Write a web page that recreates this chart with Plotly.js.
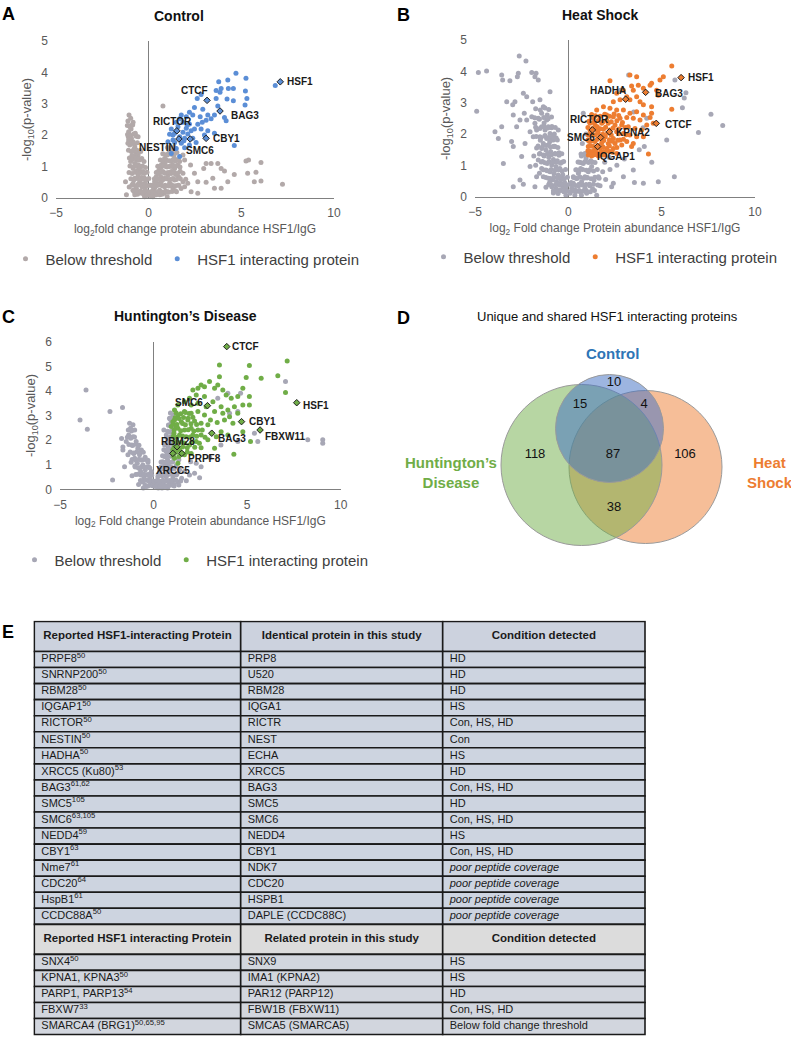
<!DOCTYPE html>
<html><head><meta charset="utf-8">
<script src="https://cdn.plot.ly/plotly-3.0.1.min.js"></script>
<style>html,body{margin:0;padding:0;background:#fff}#chart{width:791px;height:1043px}</style>
</head><body><div id="chart"></div>
<script>
// ---------------- DATA ----------------
// Panel A: Control  ([log2 FC, -log10 p])
const controlBelow = [
[0.77,2.93],[5.25,1.18],[5.39,1.21],[6.06,1.13],[5.79,0.82],[5.34,0.79],[7.22,0.44],[6.06,0.54],[5.70,0.52],[4.62,0.75],[4.09,0.86],[3.73,1.10],[3.91,0.94],[3.37,1.10],[3.10,1.10],[2.97,0.94],[2.65,0.52],[3.10,0.50],[3.55,0.31],[3.91,0.31],[2.47,0.79],[2.26,1.05],[1.94,1.21],[3.46,0.63],[4.27,0.52],[2.11,0.47],[2.29,0.20],[2.65,0.15],[1.94,0.36],[1.52,1.45],[1.85,1.37],
[-1.06,2.64],[-0.97,2.54],[-0.84,2.41],[-0.90,2.32],[-1.08,2.11],[-1.02,2.01],[-0.93,1.90],[-0.84,1.79],[-0.75,1.63],[-0.66,1.53],[-0.57,1.37],[-0.48,1.21],[-0.39,1.00],[-0.30,0.84],[-0.22,0.63],[-0.13,0.41],[-0.04,0.20],[-0.93,1.48],[-1.02,1.69],[-1.08,1.85],[-0.81,1.26],[-0.66,1.05],[-0.97,1.16],[-0.84,0.94],[-0.57,0.73],[-0.75,0.63],[-0.48,0.52],[-0.36,0.36],[-0.66,0.31],[-0.84,0.47],[-0.54,0.94],[-0.43,1.48],[-1.25,0.52],[-1.20,0.10],[-0.25,1.16],[-0.57,1.95],[-0.72,2.06],
[-1.12,2.45],[-1.05,2.30],[-0.95,2.20],[-1.10,1.95],[-0.98,1.80],[-0.80,1.55],[-0.90,1.35],[-0.70,1.40],[-0.62,1.20],[-0.75,1.10],[-0.55,1.05],[-0.45,0.85],[-0.65,0.85],[-0.38,0.65],[-0.30,0.45],[-0.55,0.45],[-0.20,0.30],[-0.45,0.20],[-0.25,0.10],[-0.10,0.08],[-0.60,0.12],[-0.85,0.25],[-1.05,0.35],[-0.15,0.55],
[0.14,0.20],[0.23,0.36],[0.32,0.52],[0.41,0.68],[0.50,0.84],[0.59,0.94],[0.68,1.05],[0.77,1.16],[0.86,1.26],[1.00,1.37],[1.13,1.48],[1.25,1.53],[0.32,0.31],[0.50,0.41],[0.68,0.52],[0.86,0.63],[1.04,0.73],[1.22,0.84],[1.40,0.94],[1.58,1.05],[1.67,1.16],[0.59,0.25],[0.86,0.36],[1.13,0.47],[1.40,0.57],[1.61,0.68],[1.85,0.79],[1.04,0.20],[1.31,0.31],[1.58,0.41],[1.85,0.52],[0.77,0.84],[0.95,1.00],[0.65,0.68],[1.22,1.16],[1.40,1.26],[0.41,0.10],[0.72,0.12],[1.00,0.04],[0.23,0.04],[0.05,0.10],[-0.22,0.04],[-0.39,0.15],[-0.57,0.20],[-0.75,0.10],
[1.10,1.00],[1.30,1.05],[0.95,0.80],[1.20,0.60],[0.45,0.45],[0.60,0.10],[0.85,0.15],[1.50,0.20],[1.75,0.30],[2.00,0.60],[1.70,0.85],[1.45,0.75],[0.90,1.15],[1.35,1.35],[0.15,0.05],[0.30,0.15],[1.20,0.40],
[-1.15,2.31],[-1.01,2.27],[-0.86,2.33],[-1.14,2.02],[-0.99,1.98],[-0.81,2.04],[-0.67,1.97],[-1.12,1.74],[-0.94,1.77],[-0.78,1.72],[-0.61,1.76],[-1.09,1.52],[-0.91,1.49],[-0.76,1.52],[-0.58,1.47],[-0.46,1.51],
[-1.04,1.27],[-0.88,1.23],[-0.71,1.27],[-0.52,1.24],[-0.37,1.26],[-1.01,1.02],[-0.83,0.98],[-0.64,1.03],[-0.47,0.99],[-0.33,1.02],[-0.17,0.97],[-1.06,0.81],[-0.89,0.78],[-0.72,0.82],[-0.56,0.79],[-0.41,0.81],[-0.24,0.78],[-0.09,0.82],
[-0.96,0.61],[-0.79,0.58],[-0.63,0.62],[-0.46,0.59],[-0.29,0.61],[-0.13,0.58],[0.01,0.62],[-0.91,0.41],[-0.71,0.38],[-0.54,0.42],[-0.37,0.39],[-0.21,0.41],[-0.06,0.38],[0.09,0.41],[-0.79,0.21],[-0.63,0.18],[-0.44,0.22],[-0.31,0.19],[-0.11,0.21],[0.04,0.18],
[0.21,0.22],[0.37,0.18],[0.56,0.21],[0.71,0.19],[0.91,0.22],[1.07,0.18],[1.26,0.21],[1.44,0.23],[0.19,0.41],[0.38,0.38],[0.54,0.42],[0.73,0.39],[0.89,0.41],[1.08,0.38],[1.24,0.42],[1.43,0.39],[1.63,0.41],
[0.31,0.61],[0.46,0.58],[0.63,0.62],[0.79,0.59],[0.98,0.61],[1.12,0.58],[1.31,0.62],[1.49,0.59],[1.71,0.61],[0.41,0.81],[0.54,0.78],[0.71,0.82],[0.87,0.79],[1.06,0.81],[1.21,0.78],[1.37,0.82],[1.56,0.79],
[0.49,1.01],[0.66,0.98],[0.83,1.02],[0.99,0.99],[1.16,1.01],[1.33,0.98],[1.47,1.02],[1.69,0.99],[0.63,1.21],[0.79,1.18],[0.94,1.22],[1.11,1.19],[1.29,1.21],[1.44,1.18],[1.61,1.22],[0.76,1.41],[0.91,1.38],[1.07,1.42],[1.21,1.39],[1.39,1.41],[1.01,1.61],[1.19,1.58],[1.37,1.62]
];
const controlHits = [
[4.71,3.97],[5.25,3.81],[4.27,3.76],[3.78,3.70],[6.83,3.58],[3.91,3.49],[4.30,3.49],[4.57,3.49],[3.64,3.42],[3.85,3.37],[5.22,3.41],[2.83,3.30],[3.64,3.17],[2.62,3.17],[4.23,3.15],[4.57,3.10],[5.30,3.17],[5.20,2.96],[3.73,2.93],[2.47,2.88],[2.92,2.83],[2.20,2.73],[1.76,2.64],[2.38,2.64],[2.03,2.59],[2.78,2.59],[3.19,2.64],[3.55,2.64],[3.37,2.52],[4.09,2.56],[4.18,2.46],[3.10,2.48],[1.67,2.52],[1.49,2.41],[1.85,2.41],[2.20,2.36],[2.65,2.35],[2.89,2.41],[2.47,2.20],[2.83,2.20],[3.19,2.14],[2.03,2.22],[1.85,2.09],[2.11,2.04],[2.29,2.14],[1.22,2.20],[1.31,2.01],[1.13,2.03],[1.67,1.95],[1.94,1.90],[2.38,1.90],[2.56,1.77],[1.40,1.77],[1.76,1.74],[1.49,1.58],[1.22,1.42],[1.67,1.32],[1.94,1.60],[4.62,1.67],[3.01,2.01],[3.55,2.06],[1.58,2.27],[2.08,2.32],[1.31,1.85],[1.04,1.79],[1.40,2.06],[1.90,1.82],[2.20,1.69]
];
const controlLabelNames = ['HSF1','CTCF','BAG3','RICTOR','NESTIN','SMC6','CBY1'];
const controlLabelPts = [[7.10,3.70],[3.15,3.11],[3.85,2.77],[1.52,2.14],[1.63,1.88],[2.24,1.88],[3.10,1.90]];

// Panel B: Heat Shock
const heatBelow = [
[-2.63,4.49],[-2.27,4.33],[-4.82,3.96],[-4.38,4.01],[-3.57,3.88],[-3.52,3.72],[-3.13,3.70],[-2.68,3.94],[-2.73,3.83],[-1.96,3.96],[-1.73,3.94],[-1.79,3.83],[-1.61,3.72],[-4.91,2.73],[-3.30,3.03],[-2.98,2.93],[-2.86,3.03],[-2.41,3.30],[-2.23,3.19],[-1.91,3.03],[-1.52,3.09],[-1.34,2.87],[-0.98,3.35],[-2.95,2.61],[-2.59,2.45],[-2.36,2.66],[-2.23,2.45],[-2.77,2.23],[-3.04,1.76],[-3.75,1.86],[-3.93,2.07],[-3.57,2.23],[-3.48,1.06],[-1.96,2.55],[-1.79,2.34],[-1.70,2.13],[-1.88,1.91],[-1.52,1.91],[-1.43,2.23],[-2.05,2.07],[-2.32,1.70],[-2.50,1.28],[-2.05,0.96],[-1.70,0.64],[-1.79,0.32],[-2.41,0.40],[-2.95,0.32],[-2.59,0.53],[-0.54,2.13],[-0.80,1.81],[-2.95,1.60],
[-1.16,2.45],[-1.07,2.23],[-1.25,2.13],[-0.98,2.02],[-1.16,1.86],[-0.89,1.81],[-1.34,1.70],[-1.07,1.65],[-0.80,1.60],[-1.43,1.54],[-1.20,1.49],[-0.95,1.44],[-0.71,1.38],[-1.52,1.38],[-1.30,1.30],[-1.05,1.26],[-0.80,1.19],[-0.59,1.15],[-1.61,1.17],[-1.38,1.12],[-1.13,1.06],[-0.89,1.01],[-0.66,0.96],[-0.45,0.90],[-1.43,0.90],[-1.20,0.85],[-0.98,0.80],[-0.77,0.74],[-0.54,0.69],[-1.34,0.64],[-1.07,0.59],[-0.84,0.53],[-0.63,0.48],[-0.41,0.43],[-0.89,0.32],[-0.66,0.27],[-0.45,0.21],[-0.23,0.16],[-0.13,0.05],[-0.30,0.32],[-0.71,1.60],[-0.59,1.81],[-1.61,2.50],[-1.43,2.66],[-1.13,2.61],
[-1.50,1.80],[-1.70,1.55],[-1.25,1.95],[-0.90,2.20],[-0.75,2.00],[-0.50,1.40],[-0.35,1.10],[-0.30,0.70],[-0.20,0.45],[-1.00,0.45],[-1.20,0.30],[-0.55,0.10],[-0.80,0.12],[-1.55,0.75],[-1.75,1.00],[-1.85,1.30],[-0.40,0.55],[-0.15,0.25],[-1.00,1.75],[-1.30,2.35],
[-1.75,2.81],[-1.50,2.77],[-1.25,2.83],[-1.05,2.78],[-1.80,2.52],[-1.55,2.47],[-1.32,2.53],[-1.08,2.49],[-0.90,2.54],[-1.75,2.22],[-1.52,2.18],[-1.30,2.23],[-1.10,2.19],[-0.88,2.24],[-0.70,2.21],
[-1.72,1.92],[-1.48,1.88],[-1.26,1.93],[-1.05,1.89],[-0.85,1.91],[-0.65,1.87],[-1.62,1.62],[-1.40,1.58],[-1.18,1.63],[-0.96,1.59],[-0.76,1.61],[-0.56,1.57],
[-1.55,1.36],[-1.33,1.33],[-1.12,1.37],[-0.90,1.34],[-0.70,1.36],[-0.50,1.32],[-0.35,1.37],[-1.45,1.11],[-1.25,1.08],[-1.03,1.12],[-0.83,1.09],[-0.62,1.11],[-0.42,1.07],[-0.25,1.12],
[-1.35,0.86],[-1.13,0.83],[-0.92,0.87],[-0.72,0.84],[-0.52,0.86],[-0.33,0.82],[-0.15,0.87],[-1.20,0.61],[-0.98,0.58],[-0.78,0.62],[-0.58,0.59],[-0.40,0.61],[-0.22,0.57],[-0.05,0.62],
[-1.05,0.39],[-0.85,0.36],[-0.65,0.40],[-0.47,0.37],[-0.29,0.39],[-0.12,0.35],[0.05,0.40],[-0.80,0.19],[-0.60,0.16],[-0.42,0.20],[-0.25,0.17],[-0.08,0.19],[0.10,0.16],
[0.22,0.19],[0.40,0.16],[0.58,0.20],[0.78,0.17],[0.97,0.19],[1.18,0.16],[1.40,0.20],[0.20,0.39],[0.38,0.36],[0.57,0.40],[0.75,0.37],[0.95,0.39],[1.15,0.35],[1.35,0.40],[1.58,0.37],
[0.28,0.61],[0.46,0.58],[0.64,0.62],[0.83,0.59],[1.02,0.61],[1.22,0.57],[1.42,0.62],[1.65,0.59],[0.40,0.86],[0.58,0.83],[0.77,0.87],[0.96,0.84],[1.15,0.86],[1.35,0.82],[1.55,0.87],
[0.52,1.11],[0.70,1.08],[0.90,1.12],[1.08,1.09],[1.28,1.11],[0.68,1.36],[0.85,1.33],[1.02,1.37],
[0.09,0.11],[0.18,0.27],[0.27,0.43],[0.41,0.59],[0.54,0.74],[0.66,0.90],[0.80,1.06],[0.95,1.22],[0.36,0.21],[0.54,0.34],[0.71,0.48],[0.89,0.64],[1.07,0.80],[1.25,0.96],[1.43,1.09],[0.63,0.16],[0.89,0.27],[1.13,0.40],[1.38,0.53],[1.61,0.64],[0.98,0.11],[1.84,0.80],[0.27,0.64],[0.45,0.85],[0.89,1.38],[0.80,2.66],[1.52,0.05],[2.23,0.87],[2.41,0.43],[2.95,0.64],[3.48,0.85],[4.02,0.43],[4.82,0.48],[5.68,0.64],[3.54,0.45],[2.32,0.32],[4.47,1.10],[6.97,2.05],[8.27,2.27],[7.64,2.63],[6.11,2.84],[6.21,3.15],[5.71,3.72],[5.27,1.81],[4.07,1.60],[3.23,3.88],[3.50,2.70],[4.00,2.20],[3.80,1.50],[2.80,3.40],[4.20,2.50],[3.00,1.20],[2.60,1.00],[6.30,3.32],
[0.70,1.30],[1.10,1.45],[1.20,1.15],[0.60,1.10],[1.00,0.60],[1.30,0.25],[1.70,0.35],[2.00,0.55],[0.15,0.45],[0.35,0.05],[0.70,0.05],[1.95,1.10],[2.20,1.25],[0.75,1.70],[1.05,1.80],[0.95,2.00]
];
const heatHits = [
[5.54,4.17],[5.09,3.83],[4.91,3.72],[4.46,3.62],[4.38,3.56],[3.30,3.88],[3.66,3.83],[2.23,3.70],[3.39,3.53],[3.75,3.56],[3.48,3.40],[4.02,3.46],[4.82,3.24],[4.73,3.40],[5.54,2.79],[2.59,3.30],[2.95,3.40],[3.13,3.19],[3.30,3.09],[3.66,3.19],[3.84,3.03],[4.02,2.93],[2.77,3.09],[2.41,3.03],[1.88,2.87],[1.52,2.77],[2.23,2.82],[2.59,2.77],[2.95,2.77],[3.30,2.66],[3.66,2.71],[4.02,2.61],[4.38,2.53],[4.55,2.34],[4.20,2.29],[3.84,2.45],[3.48,2.50],[3.13,2.53],[2.77,2.50],[2.41,2.55],[2.05,2.61],[1.70,2.57],[1.34,2.50],[1.16,2.34],[1.43,2.29],[1.79,2.34],[2.14,2.34],[2.50,2.29],[2.86,2.29],[3.21,2.23],[3.57,2.18],[3.93,2.13],[4.02,1.91],[3.66,1.91],[3.30,1.97],[2.95,2.02],[2.59,2.07],[2.23,2.13],[1.88,2.15],[1.52,2.13],[1.16,2.13],[1.07,1.97],[1.34,1.97],[1.70,1.91],[1.98,1.91],[2.41,1.86],[2.77,1.81],[3.13,1.76],[3.48,1.70],[3.39,1.60],[2.86,1.65],[2.50,1.70],[2.14,1.70],[1.79,1.72],[1.43,1.76],[1.13,1.76],[1.07,1.60],[1.34,1.60],[1.70,1.54],[2.05,1.54],[2.41,1.54],[1.16,1.44],[1.52,1.40],[1.88,1.44],[2.23,1.44],[1.25,1.30],[1.61,1.30],[1.96,1.33],[4.29,1.36],[1.07,1.33],[2.59,1.38],[4.46,2.87],[4.46,2.66],
[1.25,2.62],[1.45,2.58],[1.95,2.63],[2.20,2.57],[2.45,2.64],[2.70,2.59],[1.10,2.41],[1.35,2.37],[1.60,2.43],[1.85,2.38],[2.05,2.44],[2.30,2.39],[2.60,2.42],[2.90,2.37],
[1.05,2.21],[1.30,2.18],[1.55,2.23],[1.70,2.17],[2.00,2.22],[2.40,2.19],[2.70,2.16],[3.05,2.21],[1.20,2.02],[1.45,1.98],[1.60,2.04],[1.85,1.99],[2.10,2.03],[2.30,1.97],[2.70,2.01],[3.10,1.98],
[1.05,1.81],[1.25,1.78],[1.55,1.83],[1.90,1.79],[2.20,1.82],[2.35,1.77],[2.65,1.80],[2.95,1.83],[1.20,1.62],[1.45,1.58],[1.60,1.63],[1.85,1.59],[2.20,1.62],[2.60,1.57],[1.05,1.47],[1.30,1.44],[1.45,1.48],[1.75,1.43],[2.10,1.46],[2.35,1.42],[1.15,1.36],[1.40,1.34],[1.70,1.37],[1.85,1.33]
];
const heatLabelNames = ['HSF1','BAG3','HADHA','CTCF','RICTOR','KPNA2','SMC6','IQGAP1'];
const heatLabelPts = [[6.04,3.80],[4.14,3.33],[3.07,3.11],[4.71,2.34],[1.29,2.13],[2.20,2.07],[1.73,1.89],[1.57,1.60]];

// Panel C: Huntington's Disease
const hdBelow = [
[-3.61,4.04],[-3.93,2.82],[-3.54,2.44],[-2.33,3.16],[-1.66,3.33],[-2.19,0.38],[-1.71,2.07],[-1.64,1.72],
[-1.28,2.68],[-1.10,2.62],[-1.23,2.48],[-1.01,2.41],[-1.33,2.21],[-1.10,2.14],[-0.93,1.94],[-1.16,1.80],[-0.84,1.67],[-1.05,1.46],[-0.75,1.40],[-0.66,1.19],[-0.87,1.06],[-0.57,0.99],[-0.44,0.79],[-0.69,0.72],[-0.34,0.58],[-0.52,0.45],[-0.27,0.38],[-0.16,0.18],[-0.39,0.11],[-1.46,1.94],[-1.64,1.60],[-1.37,1.40],[-1.01,1.26],[-1.55,0.92],[-0.75,0.85],[-0.27,0.92],[-0.12,0.72],
[-1.20,1.10],[-0.95,0.60],[-0.60,0.30],[-0.80,0.20],[-1.15,0.55],[-0.45,1.30],[-0.30,1.10],[-0.20,0.50],[-0.08,0.30],[-0.55,0.05],[-1.00,0.95],[-0.65,1.60],
[-1.35,2.41],[-1.18,2.37],[-1.40,2.12],[-1.22,2.08],[-1.02,2.13],[-1.32,1.82],[-1.12,1.78],[-0.95,1.83],[-0.78,1.79],[-1.25,1.52],[-1.08,1.48],[-0.90,1.53],[-0.72,1.49],[-0.55,1.51],
[-1.15,1.21],[-0.95,1.18],[-0.78,1.22],[-0.60,1.19],[-0.45,1.21],[-0.30,1.18],[-0.98,0.91],[-0.82,0.88],[-0.64,0.92],[-0.50,0.89],[-0.35,0.91],[-0.20,0.87],
[-0.85,0.61],[-0.68,0.58],[-0.52,0.62],[-0.38,0.59],[-0.24,0.61],[-0.10,0.57],[-0.70,0.36],[-0.55,0.33],[-0.40,0.37],[-0.26,0.34],[-0.12,0.36],[0.02,0.33],[-0.45,0.16],[-0.30,0.13],[-0.18,0.17],[-0.05,0.14],[0.08,0.16],
[0.09,0.11],[0.16,0.31],[0.23,0.51],[0.32,0.72],[0.41,0.92],[0.50,1.12],[0.59,1.33],[0.68,1.53],[0.77,1.73],[0.85,1.94],[0.91,2.14],[0.94,2.34],[1.03,2.55],[0.85,2.89],[1.03,3.02],[0.41,0.18],[0.55,0.31],[0.68,0.51],[0.77,0.72],[0.91,0.92],[1.03,1.12],[0.59,0.11],[0.85,0.24],[1.03,0.45],[1.21,0.58],[1.39,0.79],[1.65,0.72],[1.92,0.58],[2.19,0.65],[2.46,0.47],[1.98,1.12],[2.28,1.06],[2.54,0.92],[0.59,1.80],[0.68,2.21],[0.55,2.41],
[0.30,0.30],[0.45,0.55],[0.62,0.95],[0.75,1.20],[0.82,1.45],[0.70,1.00],[0.95,1.65],[1.10,1.90],[0.98,1.35],[1.15,1.60],[1.20,0.95],[1.35,1.20],[1.50,0.45],[1.75,0.35],[0.25,0.05],[0.45,0.05],[0.75,0.05],[1.10,0.20],[1.30,0.30],[0.80,2.60],[0.95,2.75],[0.90,3.10],
[0.20,0.16],[0.35,0.13],[0.52,0.17],[0.70,0.14],[0.90,0.16],[1.10,0.13],[1.35,0.17],[0.18,0.36],[0.33,0.33],[0.50,0.37],[0.66,0.34],[0.84,0.36],[1.00,0.33],[1.20,0.37],[1.45,0.34],
[0.25,0.61],[0.40,0.58],[0.55,0.62],[0.72,0.59],[0.88,0.61],[1.05,0.58],[1.25,0.62],[0.32,0.86],[0.47,0.83],[0.62,0.87],[0.78,0.84],[0.95,0.86],[1.10,0.83],
[0.40,1.11],[0.55,1.08],[0.70,1.12],[0.85,1.09],[1.00,1.11],[0.48,1.36],[0.63,1.33],[0.78,1.37],[0.92,1.34],[1.05,1.36],[0.55,1.61],[0.70,1.58],[0.84,1.62],[0.98,1.59],
[0.62,1.86],[0.76,1.83],[0.90,1.87],[1.02,1.84],[0.70,2.11],[0.82,2.08],[0.96,2.12],[0.75,2.36],[0.88,2.33],[1.00,2.37],[0.80,2.61],[0.92,2.58],[0.88,2.86],[1.00,2.83],
[9.04,2.01],[9.04,1.87],[8.24,2.01],[7.05,4.38],[4.50,3.16],[4.65,3.90],[5.39,2.28],[3.97,3.90],[3.43,3.70],[4.06,3.09],[4.50,1.94],[5.57,1.94],[3.00,1.30],[3.60,1.80]
];
const hdHits = [
[7.14,5.22],[5.12,5.03],[3.52,5.05],[4.95,4.54],[5.75,4.51],[6.64,4.62],[7.05,3.94],[3.52,4.58],[2.99,4.38],[2.72,4.17],[2.37,4.11],[2.10,4.04],[2.54,4.24],[3.26,4.11],[3.70,4.04],[3.43,4.24],[4.77,4.11],[5.12,3.77],[4.50,3.77],[4.15,3.70],[3.88,3.83],[5.12,3.43],[4.77,3.43],[4.32,3.36],[3.97,3.22],[3.61,3.36],[3.17,3.56],[2.72,3.77],[2.28,3.83],[1.92,3.70],[1.65,3.56],[1.30,3.43],[1.12,3.22],[2.01,3.43],[2.37,3.50],[2.81,3.36],[3.26,3.16],[3.70,3.09],[4.06,2.95],[4.50,3.09],[4.24,2.68],[3.79,2.82],[3.40,2.72],[3.04,2.82],[2.72,3.02],[2.37,3.16],[2.01,3.09],[1.65,3.16],[1.30,3.02],[1.12,2.82],[1.48,2.75],[1.83,2.82],[2.19,2.78],[2.54,2.68],[2.90,2.62],[2.37,2.41],[2.01,2.48],[1.65,2.41],[1.30,2.48],[1.09,2.28],[1.39,2.21],[1.74,2.14],[2.10,2.21],[2.54,2.21],[2.90,2.01],[3.35,2.14],[3.61,2.34],[3.97,2.21],[4.77,2.34],[5.18,1.94],[1.12,1.94],[1.48,1.91],[1.92,1.80],[2.28,1.94],[2.54,1.69],[1.03,1.60],[1.39,1.60],[1.65,1.40],[2.01,1.46],[1.12,1.26],[1.30,1.06],[4.29,1.42],[3.26,1.67],[0.94,2.55],[1.03,2.75],[1.21,2.55],
[1.20,3.11],[1.45,3.07],[1.70,3.12],[1.90,3.08],[1.15,2.91],[1.35,2.88],[1.60,2.92],[1.85,2.89],[2.10,2.93],[1.05,2.66],[1.25,2.63],[1.55,2.67],[1.70,2.62],[2.00,2.66],[2.30,2.63],
[1.10,2.41],[1.45,2.38],[1.85,2.42],[2.15,2.37],[2.60,2.41],[1.05,2.16],[1.25,2.12],[1.55,2.17],[1.95,2.13],[2.30,2.16],[2.75,2.12],[1.25,1.91],[1.65,1.88],[2.05,1.92],[2.45,1.87],
[1.10,1.71],[1.30,1.68],[1.55,1.72],[1.80,1.69],[2.20,1.71],[1.20,1.51],[1.50,1.48],[1.80,1.52],[1.05,1.36],[1.35,1.33]
];
const hdLabelNames = ['CTCF','HSF1','SMC6','CBY1','FBXW11','BAG3','RBM28','PRPF8','XRCC5'];
const hdLabelPts = [[3.91,5.80],[7.65,3.52],[2.88,3.40],[4.70,2.75],[5.69,2.41],[3.11,2.28],[1.25,1.73],[1.51,1.46],[1.03,1.46]];

const xTicks = [-5, 0, 5, 10];
const legendNames = ['Below threshold', 'HSF1 interacting protein'];

// Panel D: Venn counts
const vennSetNames = ['Control', 'Huntington’s<br>Disease', 'Heat<br>Shock'];
const vennRegionCounts = [10, 15, 4, 118, 87, 106, 38];

// Panel E: table
const headIdentical = ['Reported HSF1-interacting Protein','Identical protein in this study','Condition detected'];
const reportedIdentical = ['PRPF8<sup>50</sup>','SNRNP200<sup>50</sup>','RBM28<sup>50</sup>','IQGAP1<sup>50</sup>','RICTOR<sup>50</sup>','NESTIN<sup>50</sup>','HADHA<sup>50</sup>','XRCC5 (Ku80)<sup>53</sup>','BAG3<sup>61,62</sup>','SMC5<sup>105</sup>','SMC6<sup>63,105</sup>','NEDD4<sup>59</sup>','CBY1<sup>63</sup>','Nme7<sup>61</sup>','CDC20<sup>64</sup>','HspB1<sup>61</sup>','CCDC88A<sup>50</sup>'];
const studyIdentical = ['PRP8','U520','RBM28','IQGA1','RICTR','NEST','ECHA','XRCC5','BAG3','SMC5','SMC6','NEDD4','CBY1','NDK7','CDC20','HSPB1','DAPLE (CCDC88C)'];
const conditionIdentical = ['HD','HD','HD','HS','Con, HS, HD','Con','HS','HD','Con, HS, HD','HD','Con, HS, HD','HS','Con, HS, HD','<i>poor peptide coverage</i>','<i>poor peptide coverage</i>','<i>poor peptide coverage</i>','<i>poor peptide coverage</i>'];
const headRelated = ['Reported HSF1 interacting Protein','Related protein in this study','Condition detected'];
const reportedRelated = ['SNX4<sup>50</sup>','KPNA1, KPNA3<sup>50</sup>','PARP1, PARP13<sup>54</sup>','FBXW7<sup>33</sup>','SMARCA4 (BRG1)<sup>50,65,95</sup>'];
const studyRelated = ['SNX9','IMA1 (KPNA2)','PAR12 (PARP12)','FBW1B (FBXW11)','SMCA5 (SMARCA5)'];
const conditionRelated = ['HS','HS','HD','Con, HS, HD','Below fold change threshold'];

// ---------------- LAYOUT / STYLE ----------------
const W = 791, H = 1043;
const F = 'Liberation Sans, Arial, Helvetica, sans-serif';
const px = v => v / W, py = v => 1 - v / H;
const TXT = '#595959';

const panels = [
  {below: controlBelow, hits: controlHits, names: controlLabelNames, pts: controlLabelPts,
   grey: '#b2a9a9', col: '#5b8ed6', xa: 'x', ya: 'y', leg: 'legend',
   xdom: [56, 334], ydom: [198, 41], yr: [0, 5],
   xtitle: 'log<sub>2</sub>fold change protein abundance HSF1/IgG',
   place: [['left',5,0],['right',3,10],['left',9,-4],['center',-4,9],['right',-1,-9],['left',-6,-12],['left',5,0]],
   legPos: [185, 259]},
  {below: heatBelow, hits: heatHits, names: heatLabelNames, pts: heatLabelPts,
   grey: '#a7a7b5', col: '#ed7d31', xa: 'x2', ya: 'y2', leg: 'legend2',
   xdom: [475, 755], ydom: [196.7, 40], yr: [0, 5],
   xtitle: 'log<sub>2</sub> Fold change Protein abundance HSF1/IgG',
   place: [['left',5,0],['left',7,-1],['right',2,9],['left',7,-1],['center',-3,10],['left',5,-1],['right',-4,0],['left',-3,-10]],
   legPos: [603, 257]},
  {below: hdBelow, hits: hdHits, names: hdLabelNames, pts: hdLabelPts,
   grey: '#a7a7b5', col: '#70ad47', xa: 'x3', ya: 'y3', leg: 'legend3',
   xdom: [60, 340.7], ydom: [489.3, 341.7], yr: [0, 6],
   xtitle: 'log<sub>2</sub> Fold change Protein abundance HSF1/IgG',
   place: [['left',3,0],['left',4,-3],['right',-2,3],['left',5,0],['left',3,-6],['left',4,-5],['center',1,5],['left',4,-5],['center',0,-17]],
   legPos: [194, 560]}
];

const traces = [];
const annotations = [];
const shapes = [];
const layout = {
  width: W, height: H, margin: {l:0, r:0, t:0, b:0},
  paper_bgcolor: '#fff', plot_bgcolor: 'rgba(0,0,0,0)',
  font: {family: F, color: '#1a1a1a'},
  showlegend: true
};

panels.forEach((p, i) => {
  const n = i === 0 ? '' : String(i + 1);
  traces.push({type:'scatter', mode:'markers', x: p.below.map(d=>d[0]), y: p.below.map(d=>d[1]),
    xaxis: p.xa, yaxis: p.ya, legend: p.leg, name: legendNames[0],
    marker: {color: p.grey, size: 5}, hoverinfo: 'skip', cliponaxis: false});
  traces.push({type:'scatter', mode:'markers', x: p.hits.map(d=>d[0]), y: p.hits.map(d=>d[1]),
    xaxis: p.xa, yaxis: p.ya, legend: p.leg, name: legendNames[1],
    marker: {color: p.col, size: 5}, hoverinfo: 'skip', cliponaxis: false});
  traces.push({type:'scatter', mode:'markers', x: p.pts.map(d=>d[0]), y: p.pts.map(d=>d[1]),
    xaxis: p.xa, yaxis: p.ya, showlegend: false,
    marker: {color: p.col, size: 5, symbol: 'diamond', line: {color: '#1f1f1f', width: 1}},
    hoverinfo: 'skip', cliponaxis: false});
  layout['xaxis' + n] = {domain: [px(p.xdom[0]), px(p.xdom[1])], anchor: 'y' + n,
    range: [-5, 10], tickvals: xTicks, showgrid: false,
    zeroline: true, zerolinecolor: '#808080', zerolinewidth: 1,
    showline: true, linecolor: '#808080', linewidth: 1, ticks: '',
    ticklabelstandoff: 4, tickfont: {family: F, size: 12, color: TXT}, fixedrange: true,
    title: {text: p.xtitle, font: {family: F, size: 12, color: TXT}, standoff: 5}};
  layout['yaxis' + n] = {domain: [py(p.ydom[0]), py(p.ydom[1])], anchor: 'x' + n,
    range: p.yr, dtick: 1, showgrid: false, zeroline: false, showline: false, ticks: '',
    ticklabelstandoff: 7, tickfont: {family: F, size: 12, color: TXT}, fixedrange: true,
    title: {text: '-log<sub>10</sub>(p-value)', font: {family: F, size: 13, color: TXT}, standoff: 6}};
  layout[p.leg] = {x: px(p.legPos[0]), y: py(p.legPos[1]), xanchor: 'center', yanchor: 'middle',
    orientation: 'h', font: {family: F, size: 15, color: '#404040'}, itemwidth: 30,
    bgcolor: 'rgba(0,0,0,0)', traceorder: 'normal'};
  p.names.forEach((nm, k) => {
    const pl = p.place[k];
    annotations.push({x: p.pts[k][0], y: p.pts[k][1], xref: p.xa, yref: p.ya, text: '<b>' + nm + '</b>',
      showarrow: false, xanchor: pl[0], yanchor: 'middle', xshift: pl[1], yshift: pl[2],
      font: {family: F, size: 10, color: '#1a1a1a'}});
  });
});

// Titles & panel letters
const paperText = (x, y, text, size, opts) => Object.assign({x: px(x), y: py(y), xref: 'paper', yref: 'paper',
  text, showarrow: false, xanchor: 'center', yanchor: 'middle', font: {family: F, size, color: '#111'}}, opts || {});
annotations.push(paperText(179, 16, '<b>Control</b>', 14));
annotations.push(paperText(600, 15, '<b>Heat Shock</b>', 14));
annotations.push(paperText(185, 316, '<b>Huntington’s Disease</b>', 14));
annotations.push(paperText(607, 316, 'Unique and shared HSF1 interacting proteins', 13));
[['A',0,14],['B',395,15],['C',0,317],['D',395,318],['E',0,632]].forEach(l =>
  annotations.push(paperText(l[1], l[2], '<b>' + l[0] + '</b>', 18, {xanchor: 'left', font: {family: F, size: 18, color: '#000'}})));

// ---------------- VENN (axis in pixel units) ----------------
layout.xaxis4 = {domain: [px(395), 1], range: [395, 791], visible: false, fixedrange: true, anchor: 'y4'};
layout.yaxis4 = {domain: [py(560), py(330)], range: [560, 330], visible: false, fixedrange: true, anchor: 'x4'};
const vennCircles = [ // [cx, cy, r, fill]
  [645.5, 467, 76.5, 'rgba(237,125,49,0.5)'],
  [581.5, 465, 80.5, 'rgba(112,173,71,0.5)'],
  [609.5, 428.5, 54, 'rgba(68,114,196,0.52)']
];
vennCircles.forEach(c => shapes.push({type: 'circle', xref: 'x4', yref: 'y4', layer: 'below',
  x0: c[0]-c[2], x1: c[0]+c[2], y0: c[1]-c[2], y1: c[1]+c[2], fillcolor: c[3], line: {color: '#9a9a9a', width: 1}}));
const vennCountPos = [[614,383],[580,405],[644,405],[535,455],[613,455],[685,455],[614,508]];
traces.push({type: 'scatter', mode: 'text', xaxis: 'x4', yaxis: 'y4', showlegend: false, hoverinfo: 'skip',
  x: vennCountPos.map(d=>d[0]), y: vennCountPos.map(d=>d[1]), text: vennRegionCounts.map(String),
  textposition: 'middle center', textfont: {family: F, size: 13, color: '#111'}, cliponaxis: false});
annotations.push(paperText(612, 353, '<b>' + vennSetNames[0] + '</b>', 15, {font: {family: F, size: 15, color: '#2e75b6'}}));
annotations.push(paperText(451, 473, '<b>' + vennSetNames[1] + '</b>', 15, {font: {family: F, size: 15, color: '#70ad47'}}));
annotations.push(paperText(770, 473, '<b>' + vennSetNames[2] + '</b>', 15, {font: {family: F, size: 15, color: '#ed7d31'}}));

// ---------------- TABLE (axis in pixel units) ----------------
const colEdges = [0, 206.4, 408.4, 610.7];
const HEAD_H = 30, ROW_H = 16.05, PAD = 7;
const sections = [
  {head: headIdentical, cols: [reportedIdentical, studyIdentical, conditionIdentical], headFill: '#ccd2de', rowFill: '#cdd4e0'},
  {head: headRelated, cols: [reportedRelated, studyRelated, conditionRelated], headFill: '#dcdcdc', rowFill: '#d2d6de'}
];
let yPos = 0;
sections.forEach(sec => {
  for (let c = 0; c < 3; c++) {
    shapes.push({type: 'rect', xref: 'x5', yref: 'y5', layer: 'below', x0: colEdges[c], x1: colEdges[c+1],
      y0: yPos, y1: yPos + HEAD_H, fillcolor: sec.headFill, line: {color: '#1a1a1a', width: 1.6}});
  }
  traces.push({type: 'scatter', mode: 'text', xaxis: 'x5', yaxis: 'y5', showlegend: false, hoverinfo: 'skip',
    x: [0,1,2].map(c => (colEdges[c] + colEdges[c+1]) / 2), y: [0,1,2].map(() => yPos + HEAD_H / 2),
    text: sec.head.map(t => '<b>' + t + '</b>'), textposition: 'middle center',
    textfont: {family: F, size: 11.5, color: '#1a1a1a'}, cliponaxis: false});
  yPos += HEAD_H;
  const nRows = sec.cols[0].length;
  for (let r = 0; r < nRows; r++) {
    for (let c = 0; c < 3; c++) {
      shapes.push({type: 'rect', xref: 'x5', yref: 'y5', layer: 'below', x0: colEdges[c], x1: colEdges[c+1],
        y0: yPos + r * ROW_H, y1: yPos + (r + 1) * ROW_H, fillcolor: sec.rowFill, line: {color: '#1a1a1a', width: 1.6}});
    }
  }
  sec.cols.forEach((col, c) => {
    traces.push({type: 'scatter', mode: 'text', xaxis: 'x5', yaxis: 'y5', showlegend: false, hoverinfo: 'skip',
      x: col.map(() => colEdges[c] + PAD), y: col.map((_, r) => yPos + (r + 0.5) * ROW_H),
      text: col, textposition: 'middle right',
      textfont: {family: F, size: 11, color: '#1a1a1a'}, cliponaxis: false});
  });
  yPos += nRows * ROW_H;
});
const TOP = 621.5, LEFT = 34.3;
layout.xaxis5 = {domain: [px(LEFT - 1), px(LEFT + colEdges[3] + 1)], range: [-1, colEdges[3] + 1],
  visible: false, fixedrange: true, anchor: 'y5'};
layout.yaxis5 = {domain: [Math.max(0, py(TOP + yPos + 1)), py(TOP - 1)], range: [yPos + 1, -1],
  visible: false, fixedrange: true, anchor: 'x5'};

layout.annotations = annotations;
layout.shapes = shapes;
Plotly.newPlot('chart', traces, layout, {staticPlot: true, displayModeBar: false});
</script></body></html>
